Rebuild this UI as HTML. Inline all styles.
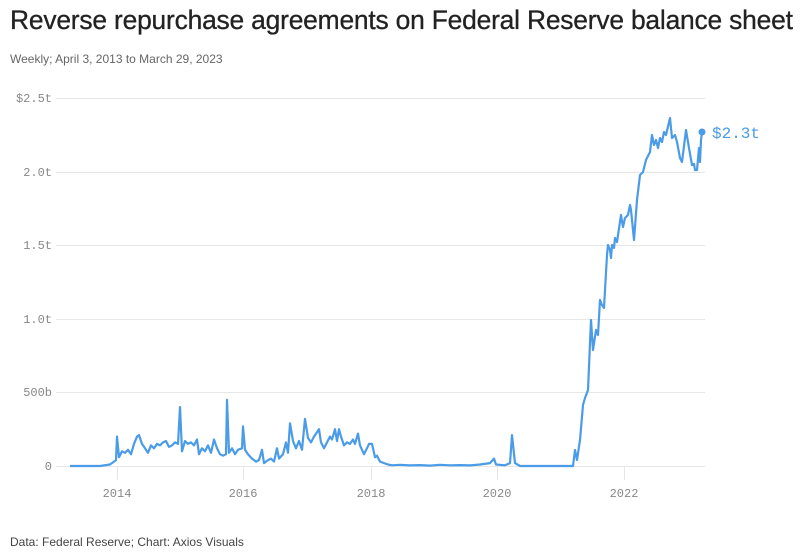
<!DOCTYPE html>
<html><head><meta charset="utf-8"><style>
body{margin:0;background:#fff;width:800px;height:555px;overflow:hidden;font-family:"Liberation Sans",sans-serif}
h1{position:absolute;left:10px;top:5px;margin:0;font-size:26.4px;font-weight:normal;color:#222;letter-spacing:-0.2px;-webkit-text-stroke:0.3px #222}
.sub{position:absolute;left:10px;top:52px;font-size:12px;color:#666}
.foot{position:absolute;left:10px;top:535px;font-size:12px;color:#444}
svg{position:absolute;left:0;top:0}
.yl{font-family:"Liberation Mono",monospace;font-size:12px;fill:#888;text-anchor:end}
.xl{font-family:"Liberation Mono",monospace;font-size:12px;fill:#888;text-anchor:middle}
</style></head><body>
<h1>Reverse repurchase agreements on Federal Reserve balance sheet</h1>
<div class="sub">Weekly; April 3, 2013 to March 29, 2023</div>
<div class="foot">Data: Federal Reserve; Chart: Axios Visuals</div>
<svg width="800" height="555">
<g stroke="#e6e6e6" stroke-width="1">
<line x1="56" x2="705" y1="98.5" y2="98.5"/><line x1="56" x2="705" y1="172.5" y2="172.5"/>
<line x1="56" x2="705" y1="245.5" y2="245.5"/><line x1="56" x2="705" y1="319.5" y2="319.5"/>
<line x1="56" x2="705" y1="392.5" y2="392.5"/><line x1="56" x2="705" y1="466.5" y2="466.5"/>
<line x1="117.5" x2="117.5" y1="466" y2="480"/><line x1="243.5" x2="243.5" y1="466" y2="480"/>
<line x1="371.5" x2="371.5" y1="466" y2="480"/><line x1="497.5" x2="497.5" y1="466" y2="480"/>
<line x1="624.5" x2="624.5" y1="466" y2="480"/>
</g>
<text class="yl" x="52" y="102">$2.5t</text><text class="yl" x="52" y="176">2.0t</text>
<text class="yl" x="52" y="249">1.5t</text><text class="yl" x="52" y="323">1.0t</text>
<text class="yl" x="52" y="396">500b</text><text class="yl" x="52" y="470">0</text>
<text class="xl" x="117" y="497">2014</text><text class="xl" x="243" y="497">2016</text>
<text class="xl" x="371" y="497">2018</text><text class="xl" x="497" y="497">2020</text>
<text class="xl" x="624" y="497">2022</text>
<polyline id="ln" fill="none" stroke="#4a9be8" stroke-width="2.2" stroke-linejoin="round" points=""/>
<circle cx="702" cy="132" r="3.5" fill="#4a9be8"/>
<text x="712" y="138" font-family="Liberation Mono,monospace" font-size="16" fill="#4a9be8">$2.3t</text>
</svg>
<script>
var k=[[70,0],[100,0],[110,10],[114,30],[116,40],[117,200],[119,60],[122,100],[125,90],[128,110],[131,80],[134,150],[137,200],[139,210],[142,150],[145,120],[148,90],[151,140],[154,120],[157,150],[160,140],[163,160],[166,170],[169,130],[172,140],[175,160],[178,150],[180,400],[182,100],[185,170],[188,150],[191,160],[194,140],[197,180],[199,80],[202,120],[205,100],[208,140],[211,90],[214,180],[217,120],[220,80],[223,70],[226,80],[227,450],[229,90],[232,120],[235,80],[238,110],[242,120],[243,270],[245,110],[248,80],[252,50],[256,30],[259,40],[262,110],[264,20],[268,40],[271,50],[274,30],[277,120],[279,50],[283,80],[286,160],[288,90],[290,290],[293,170],[296,120],[299,170],[302,110],[305,320],[308,190],[311,160],[314,200],[317,230],[319,250],[321,160],[324,120],[327,160],[330,200],[332,180],[335,250],[337,170],[339,250],[341,200],[344,140],[347,160],[350,150],[353,180],[355,150],[358,220],[360,140],[364,80],[367,120],[369,150],[372,150],[375,60],[377,70],[380,30],[384,20],[388,10],[392,5],[400,8],[410,4],[420,6],[430,3],[440,8],[450,5],[460,6],[470,4],[480,10],[490,20],[494,50],[496,10],[505,5],[510,20],[512,210],[515,20],[520,0],[572,0]];
var p=k.map(function(a){return a[0]+","+(466-a[1]*0.1472).toFixed(1)});
var t=[[573,466],[575,450],[577,460],[580,440],[583,405],[585,398],[588,390],[591,320],[593,350],[596,330],[598,335],[600,300],[602,305],[604,308],[607,255],[608,245],[610,250],[611,258],[612,245],[614,248],[615,238],[617,242],[621,215],[623,227],[625,218],[627,216],[628,215],[630,205],[631,210],[634,240],[637,200],[640,175],[643,172],[646,160],[650,152],[652,135],[654,145],[656,140],[658,148],[660,138],[662,142],[664,132],[666,135],[670,118],[672,138],[675,135],[677,142],[680,158],[682,162],[686,130],[689,148],[692,165],[694,164],[695,170],[697,170],[699,148],[700,162],[701,140],[702,132]];
t.forEach(function(a){p.push(a[0]+","+a[1])});
document.getElementById("ln").setAttribute("points",p.join(" "));
</script>
</body></html>
